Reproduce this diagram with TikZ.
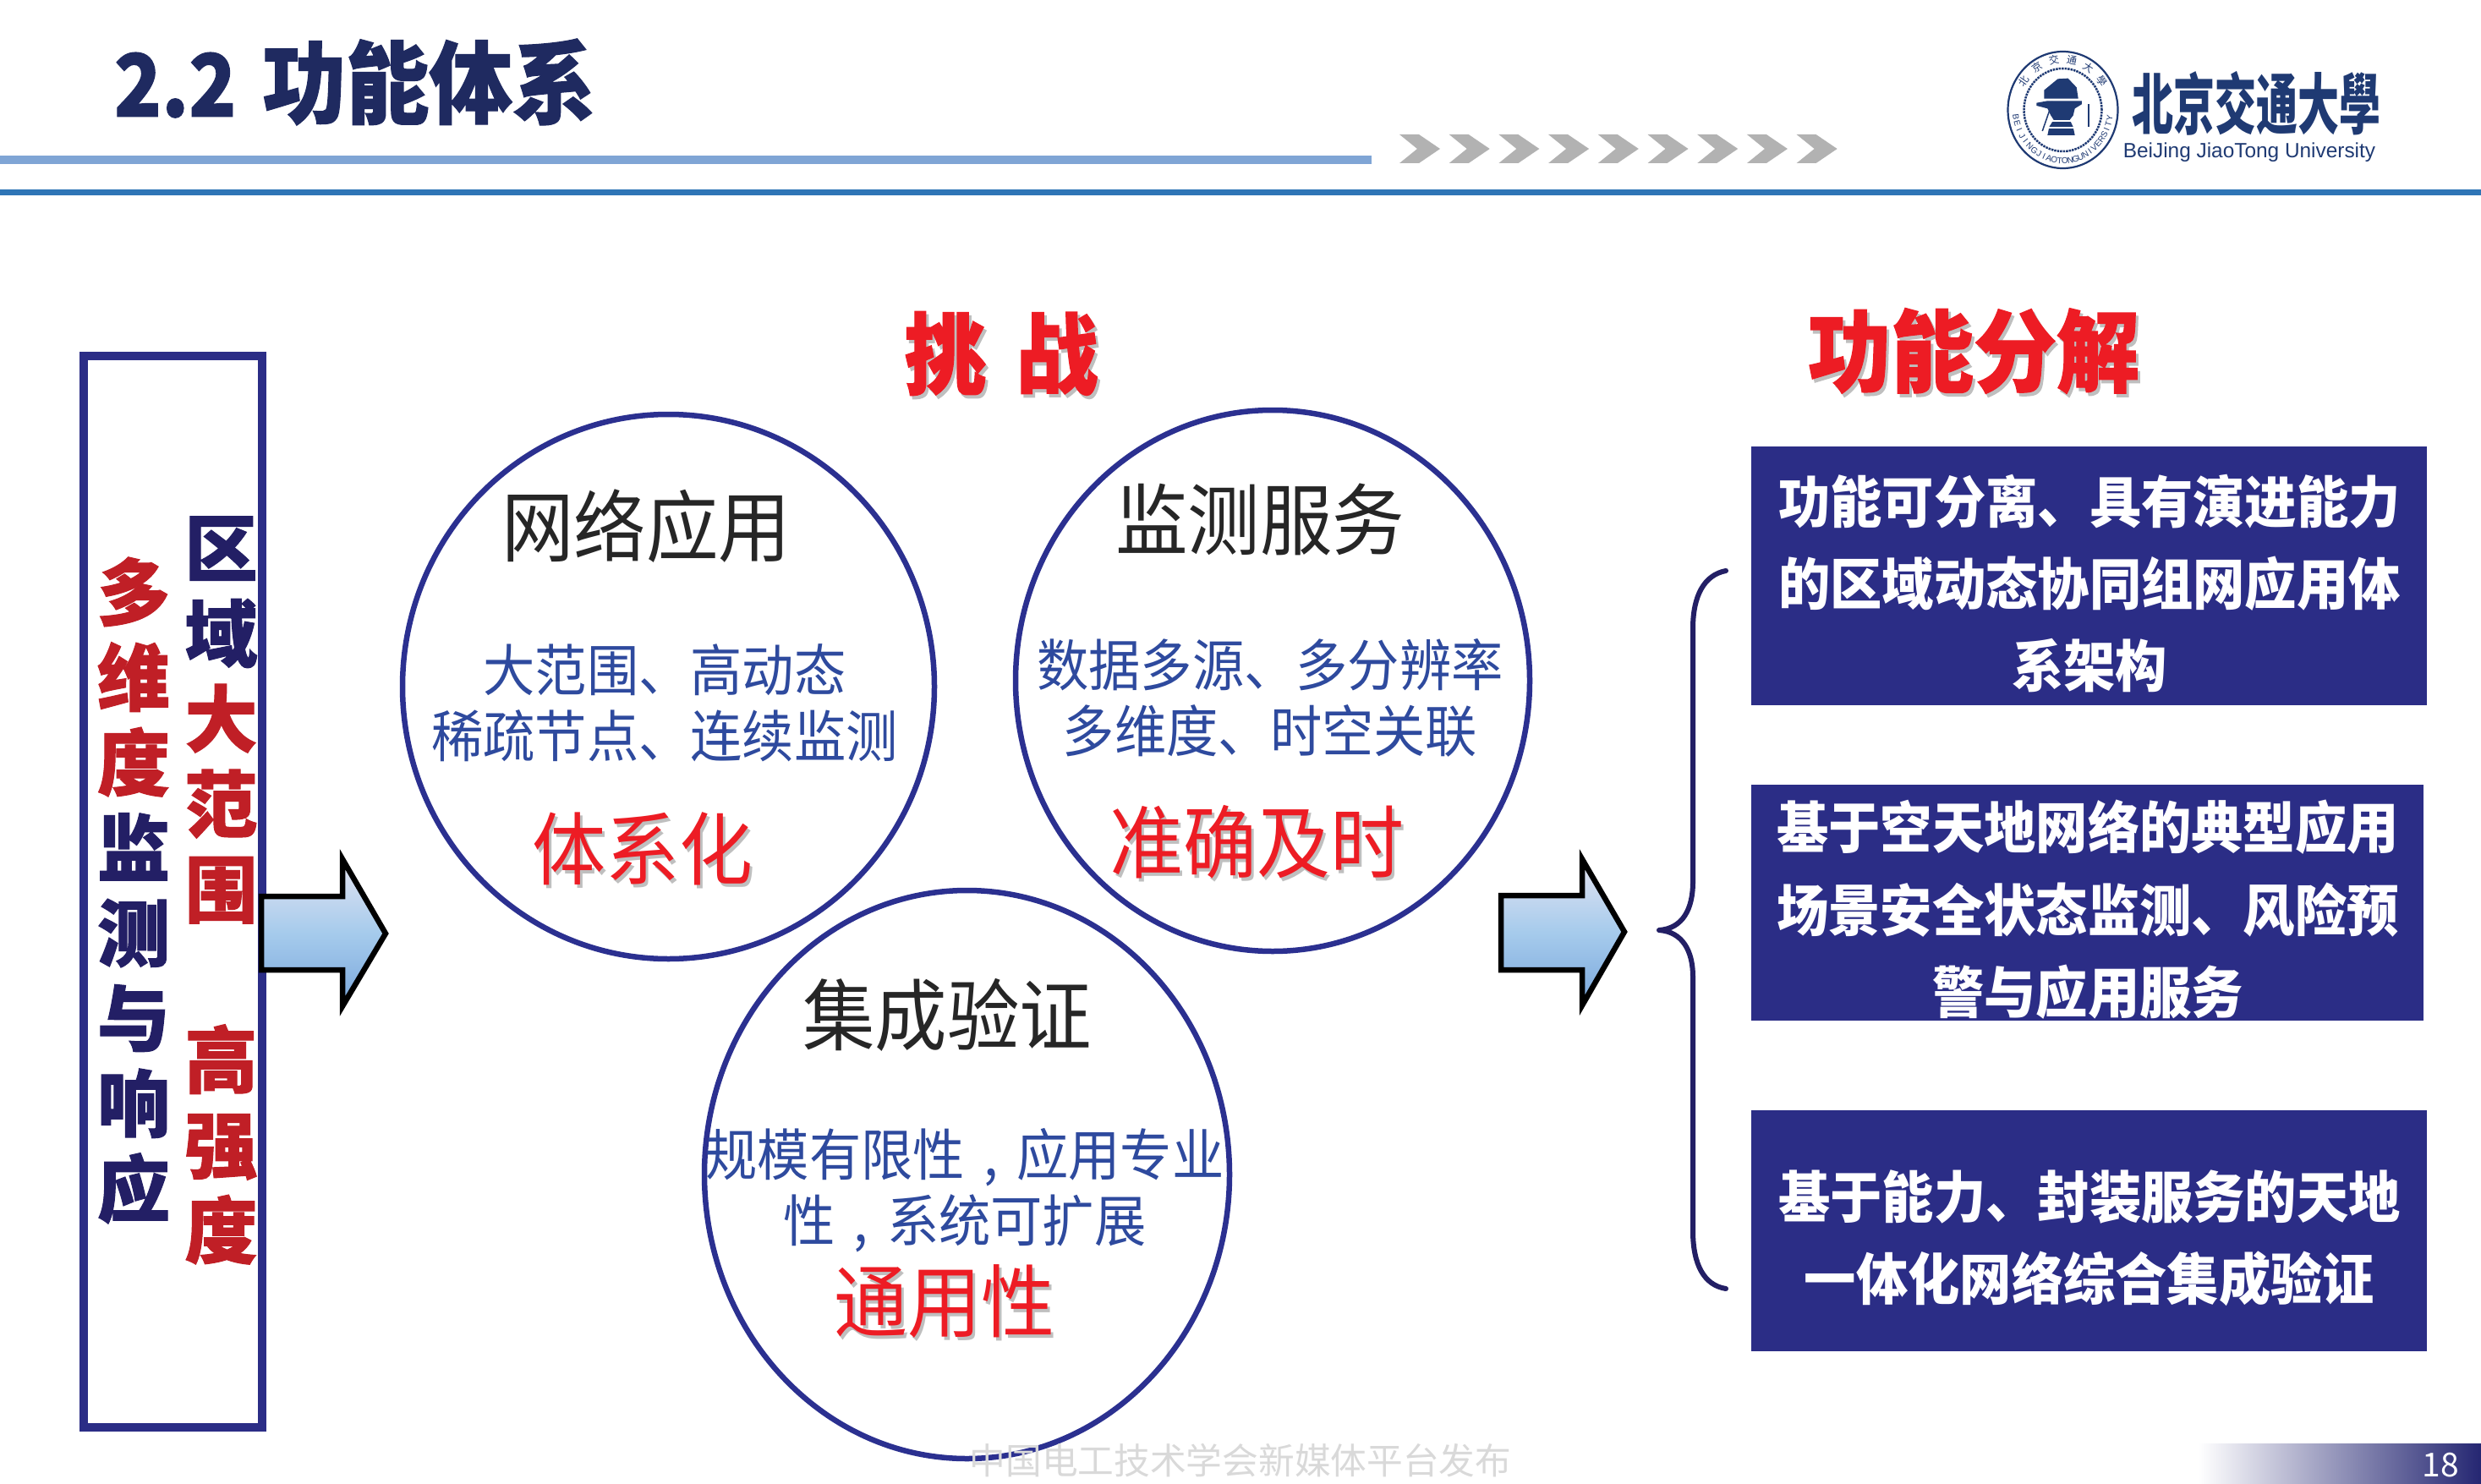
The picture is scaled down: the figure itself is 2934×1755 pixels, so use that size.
\documentclass[tikz,border=0pt]{standalone}
\usepackage{graphicx}
\usepackage{fontspec}
\usetikzlibrary{shapes.geometric,calc}
\setmainfont{Noto Sans CJK SC}
\newfontfamily\latinf{Liberation Sans}
\newfontfamily\heavy[BoldFeatures={FakeBold=1.2}]{Noto Sans CJK SC}
\definecolor{navy}{HTML}{2B2D86}
\definecolor{circ}{HTML}{2B3090}
\definecolor{titleblue}{HTML}{1F2A60}
\definecolor{deep}{HTML}{231F65}
\definecolor{redc}{HTML}{ED1C24}
\definecolor{dred}{HTML}{C01F26}
\definecolor{bluet}{HTML}{2E4A9E}
\definecolor{blk}{HTML}{262626}
\definecolor{logoc}{HTML}{1F3A73}
\definecolor{arrowtop}{HTML}{E4E4F2}
\definecolor{arrowmid}{HTML}{A6CBEC}
\definecolor{arrowbot}{HTML}{7AA7DC}
\newcommand{\fs}[2]{\fontsize{#1}{#2}\selectfont}
\newcommand{\tall}[1]{\scalebox{1}[1.08]{#1}}
\newcommand{\cm}{\makebox[1em][c]{,}}
\newcommand{\ShadowText}[5]{%
  \node[plain,text=black!25] (#1s) at (#2+3,#3+4) {\fs{#4}{#4}\tall{#5}};
  \node[plain,text=redc] (#1) at (#2,#3) {\fs{#4}{#4}\tall{#5}};}
\tikzset{
  plain/.style={inner sep=0pt,outer sep=0pt,align=center},
  head/.style={plain,text=blk,font=\fs{85.5}{85}},
  sub/.style={plain,text=bluet,font=\fs{61.3}{78}},
  ring/.style={ellipse,draw=circ,line width=6.5pt,inner sep=0pt,outer sep=0pt},
  bluebox/.style={rectangle,fill=navy,inner sep=0pt,outer sep=0pt,anchor=north west},
  boxtext/.style={plain,text=white,font=\fs{61.3}{97.4}\bfseries},
  blockarrow/.style={draw=black,line width=6.5pt,miter limit=10,top color=arrowtop,bottom color=arrowbot,middle color=arrowmid},
  chev/.style={fill=black!30},
  vert/.style={plain,font=\fs{86}{100.8}\heavy\bfseries},
}
\begin{document}
\begin{tikzpicture}[x=1pt,y=-1pt]
\useasboundingbox (0,0) rectangle (2934,1755);
\fill[white] (0,0) rectangle (2934,1755);
% header
\node[plain,anchor=west,text=titleblue,font=\fs{98.5}{100}\heavy\bfseries] (title) at (135,97) {\scalebox{.935}[1.04]{2.2}\hspace{31pt}\tall{功能体系}};
\fill[color={rgb,255:red,127;green,165;blue,213}] (0,184) rectangle (1622,194);
\fill[color={rgb,255:red,46;green,117;blue,182}] (0,224) rectangle (2934,231);
\foreach \i in {0,...,8}{
  \fill[chev,shift={(1655+58.7*\i,0)}] (0,159) -- (23,159) -- (48,176) -- (23,193) -- (0,193) -- (21,176) -- cycle;
}
% logo
\begin{scope}[shift={(2300,0)},xscale=0.4044,yscale=0.3333]
  \fill[logoc] (290,320) -- (330,280) -- (360,278) -- (385,310) -- (390,350) -- (290,350) -- cycle;
  \fill[logoc] (268,365) -- (300,358) -- (400,358) -- (400,370) -- (380,385) -- (375,410) -- (365,425) -- (375,450) -- (380,480) -- (300,480) -- (305,450) -- (318,425) -- (310,410) -- (300,385) -- (268,375) -- cycle;
  \fill[white] (300,426) rectangle (380,432);
  \fill[white] (300,450) rectangle (380,456);
  \draw[logoc,line width=1.5pt] (315,360) -- (285,465);
  \draw[logoc,line width=2pt] (420,370) -- (420,450);
\end{scope}
\node[ellipse,draw=logoc,line width=2.2pt,minimum width=130pt,minimum height=138pt,inner sep=0pt] (seal) at (2439.5,130) {};
\node[ellipse,draw=logoc,line width=2.5pt,densely dotted,minimum width=92pt,minimum height=98pt,inner sep=0pt] (gear) at (2439.5,130) {};
\foreach \c [count=\i, evaluate=\i as \t using {172-(\i-1)*7.5}] in {B,E,I,J,I,N,G}{
  \node[plain,text=logoc,rotate=90-\t,font=\latinf\fs{10}{10}] (sa\i) at ({2439.5+56*cos(\t)},{130+60*sin(\t)}) {\c};}
\foreach \c [count=\i, evaluate=\i as \t using {120-(\i-1)*6.5}] in {J,I,A,O,T,O,N,G}{
  \node[plain,text=logoc,rotate=90-\t,font=\latinf\fs{10}{10}] (sb\i) at ({2439.5+56*cos(\t)},{130+60*sin(\t)}) {\c};}
\foreach \c [count=\i, evaluate=\i as \t using {68-(\i-1)*6.5}] in {U,N,I,V,E,R,S,I,T,Y}{
  \node[plain,text=logoc,rotate=90-\t,font=\latinf\fs{10}{10}] (sc\i) at ({2439.5+56*cos(\t)},{130+60*sin(\t)}) {\c};}
\foreach \c [count=\i, evaluate=\i as \t using {215+(\i-1)*22}] in {北,京,交,通,大,學}{
  \node[plain,text=logoc,rotate=-90-\t+360,font=\fs{12}{12}] (sd\i) at ({2439.5+56*cos(\t)},{130+60*sin(\t)}) {\c};}
\node[plain,text=logoc,font=\fs{49}{49}\bfseries] (bjtu) at (2668,122) {\scalebox{1}[1.6]{北京交通大學}};
\node[plain,text=logoc,font=\latinf\fs{24.4}{26}] (bjtue) at (2660,180) {BeiJing JiaoTong University};
% left box
\node[draw=navy,line width=10.5pt,minimum width=211pt,minimum height=1267pt,inner sep=0pt,outer sep=0pt] (leftbox) at (204.5,1054.5) {};
\node[vert] (col1) at (158,1053) {\textcolor{dred}{多}\\\textcolor{dred}{维}\\\textcolor{dred}{度}\\\textcolor{deep}{监}\\\textcolor{deep}{测}\\\textcolor{deep}{与}\\\textcolor{deep}{响}\\\textcolor{deep}{应}};
\node[vert] (col2) at (261.5,1053) {\textcolor{deep}{区}\\\textcolor{deep}{域}\\\textcolor{dred}{大}\\\textcolor{dred}{范}\\\textcolor{dred}{围}\\~\\\textcolor{dred}{高}\\\textcolor{dred}{强}\\\textcolor{dred}{度}};
% arrows
\draw[blockarrow] (309,1060) -- (405,1060) -- (405,1016) -- (456,1104) -- (405,1190) -- (405,1147) -- (309,1147) -- cycle;
\draw[blockarrow] (1775,1059) -- (1871,1059) -- (1871,1016) -- (1921,1102) -- (1871,1189) -- (1871,1147) -- (1775,1147) -- cycle;
% circles
\node[ring,minimum width=629pt,minimum height=644pt] (c1) at (790.5,812) {};
\node[ring,minimum width=608pt,minimum height=640pt] (c2) at (1505,805) {};
\node[ring,minimum width=621pt,minimum height=672pt] (c3) at (1143.5,1389) {};
\node[head] (h1) at (764,622) {\tall{网络应用}};
\node[sub] (s1) at (786,831) {\tall{大范围、高动态}\\\tall{稀疏节点、连续监测}};
\ShadowText{r1}{760}{1004}{87}{体系化}
\node[head] (h2) at (1490,614) {\tall{监测服务}};
\node[sub] (s2) at (1502,825) {\tall{数据多源、多分辨率}\\\tall{多维度、时空关联}};
\ShadowText{r2}{1486}{996}{87}{准确及时}
\node[head] (h3) at (1120,1200) {\tall{集成验证}};
\node[sub] (s3) at (1141,1408) {\tall{规模有限性\cm 应用专业}\\\tall{性\cm 系统可扩展}};
\ShadowText{r3}{1117}{1539}{87}{通用性}
% column titles
\ShadowText{t1}{1184}{418}{97}{\heavy\bfseries 挑\hspace{35pt}战}
\ShadowText{t2}{2334}{415}{98}{\heavy\bfseries 功能分解}
% brace
\coordinate (btop) at (2041,675);
\coordinate (btip) at (1962,1100);
\coordinate (bbot) at (2041,1524);
\draw[deep,line width=6pt,line cap=round,line join=round] (btop) .. controls (2015,680) and (2002,705) .. (2002,743) -- (2002,1043) .. controls (2002,1075) and (1990,1098) .. (btip) .. controls (1990,1102) and (2002,1125) .. (2002,1155) -- (2002,1456) .. controls (2002,1495) and (2015,1520) .. (bbot);
% boxes
\node[bluebox,minimum width=799pt,minimum height=306pt] (b1) at (2071,528) {};
\node[bluebox,minimum width=795pt,minimum height=279pt] (b2) at (2071,928) {};
\node[bluebox,minimum width=799pt,minimum height=285pt] (b3) at (2071,1313) {};
\node[boxtext] (bt1) at (2471,690) {\tall{功能可分离、具有演进能力}\\\tall{的区域动态协同组网应用体}\\\tall{系架构}};
\node[boxtext] (bt2) at (2469,1076) {\tall{基于空天地网络的典型应用}\\\tall{场景安全状态监测、风险预}\\\tall{警与应用服务}};
\node[boxtext] (bt3) at (2471,1464) {\tall{基于能力、封装服务的天地}\\\tall{一体化网络综合集成验证}};
% footer
\shade[left color=white,right color=navy!85!black] (2600,1707) rectangle (2934,1755);
\node[plain,text=black!15,font=\fs{42.7}{43}] (wm) at (1467,1727) {中国电工技术学会新媒体平台发布};
\node[plain,text=white,font=\fs{39}{39}] (pg) at (2886,1733) {18};
\end{tikzpicture}
\end{document}
